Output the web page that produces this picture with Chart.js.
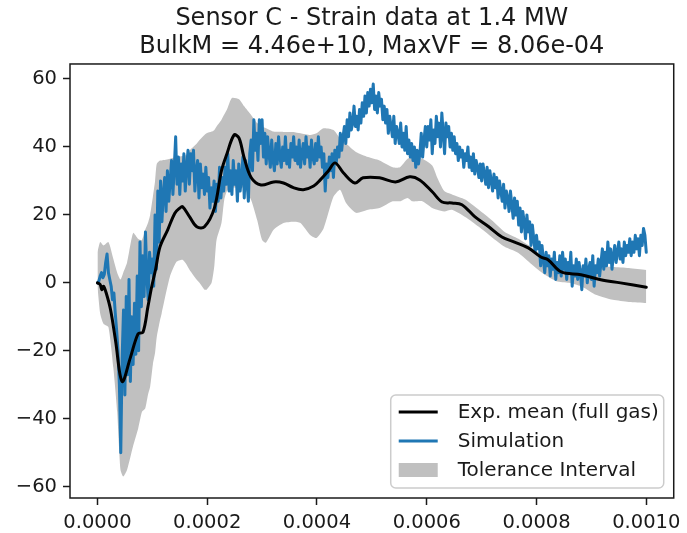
<!DOCTYPE html>
<html>
<head>
<meta charset="utf-8">
<title>Sensor C - Strain data</title>
<script src="https://cdn.jsdelivr.net/npm/chart.js@4/dist/chart.umd.min.js"></script>
<style>
  html, body { margin: 0; padding: 0; background: #fff; }
  canvas { display: block; }
</style>
</head>
<body>
<canvas id="strainChart" width="687" height="533"></canvas>
<script>
const titleLines = ['Sensor C - Strain data at 1.4 MW', 'BulkM = 4.46e+10, MaxVF = 8.06e-04'];
const xTicks = [0, 0.0002, 0.0004, 0.0006, 0.0008, 0.001];
const yTicks = [-60, -40, -20, 0, 20, 40, 60];

// simulation output, sampled every 2.5 us from t = 0
const simStepUs = 2.5;
const simY = [
  0, 0.5, 2, 3, 1.5, 2.5, 6, 8.5, 3, 1,
  -1, -5, -3, -9, -14, -20, -30, -50, -22, -8,
  -33, -4, -27, 1, -29, -10, -24, -6, -21, 2,
  -20, 12, -7, 8, -4, 15, 2, -5, 9, 3,
  7, -1, 20, 4, 27, 12, 30, 18, 26, 31,
  21, 33, 24, 30, 36, 26, 34, 43, 29, 37,
  26, 35, 30, 38, 27, 34, 39, 29, 38, 33,
  39, 27, 33, 36, 25, 35, 28, 32, 26, 34,
  27, 31, 22, 28, 24, 30, 21, 29, 24, 34,
  25, 31, 27, 34, 29, 38, 27, 33, 26, 36,
  29, 33, 24, 35, 27, 31, 37, 25, 36, 30,
  24, 38, 42, 33, 48, 39, 44, 36, 48, 41,
  48, 37, 44, 35, 43, 38, 34, 42, 36, 33,
  41, 35, 43, 37, 34, 40, 36, 43, 35, 39,
  34, 41, 37, 43, 36, 40, 35, 42, 34, 38,
  41, 35, 43, 37, 40, 34, 42, 37, 35, 41,
  36, 43, 37, 40, 34, 38, 27, 35, 31, 37,
  33, 38, 31, 39, 35, 40, 37, 44, 39, 43,
  46, 41, 48, 43, 50, 45, 47, 52, 46, 49,
  45, 51, 47, 53, 49, 55, 50, 56, 52, 57,
  53, 58.5, 51, 55, 50, 56, 52, 54, 48, 52,
  47, 51, 44, 49, 46, 43, 49, 41, 46, 44,
  41, 47, 40, 44, 39, 46, 38, 42, 37, 41,
  36, 40, 34, 39, 35, 38, 44, 37, 42, 46,
  40, 46, 42, 48, 38, 45, 41, 49, 43, 47,
  40, 50, 44, 38, 47, 43, 46, 40, 44, 39,
  43, 38, 41, 36, 40, 37, 39, 34, 38, 36,
  40, 34, 37, 33, 38, 32, 36, 34, 31, 35,
  30, 35, 32, 29, 34, 28, 33, 30, 27, 32,
  28, 31, 25, 30, 27, 24, 29, 22, 27, 25,
  21, 27, 23, 19, 25, 20, 24, 17, 22, 15,
  21, 18, 13, 20, 15, 18, 11, 17, 13, 9,
  14, 10, 12, 5, 11, 7, 3, 9, 5, 8,
  2, 7, 4, 9, 1, 6, 3, 8, 2, 9,
  4, 7, 1, 6, 3, 9, -1, 5, 2, 7,
  1, 6, 3, -2, 5, 2, 7, 0, 4, 6,
  1, 8, -1, 5, 3, 7, 2, 6, 10, 4,
  9, 5, 12, 6, 10, 4, 8, 11, 6, 9,
  12, 7, 10, 6, 12, 8, 11, 9, 13, 8,
  12, 9, 14, 10, 13, 8, 14, 11, 16, 14,
  9
];

// experimental mean (full gas)
const meanTimeUs = [
  0, 5, 8, 11, 16, 24, 33, 45, 60, 74,
  83, 92, 99, 106, 114, 128, 141, 150, 155, 168,
  181, 195, 213, 226, 236, 249, 258, 267, 280, 298,
  321, 339, 357, 375, 394, 406, 421, 433, 448, 469,
  484, 514, 543, 569, 587, 610, 628, 646, 664, 688,
  713, 737, 760, 785, 808, 821, 845, 881, 917, 953,
  1000
];
const meanY = [
  0, -0.5, -2, -1, -3, -8, -17, -29, -22, -15,
  -14.5, -7, -1, 4, 10.6, 15.6, 20.5, 22, 22.4, 19.4,
  16.5, 16.5, 22, 33, 38, 43.5, 42.6, 37, 31, 28.8,
  29.7, 29.4, 28, 27.4, 28.5, 30.3, 33, 35.3, 32.4, 29.4,
  30.9, 30.9, 29.7, 31.2, 30.3, 26.8, 23.8, 23.5, 23, 19.4,
  16.5, 13.5, 12, 10.3, 7.6, 6.8, 3.2, 2.4, 0.9, 0,
  -1.3
];

// tolerance interval bounds
const bandTimeUs = [
  0, 5, 11, 20, 29, 36, 42, 47, 54, 65,
  74, 81, 87, 92, 96, 101, 105, 108, 114, 117,
  132, 144, 155, 162, 168, 181, 186, 195, 199, 208,
  213, 217, 226, 231, 236, 245, 258, 267, 280, 291,
  300, 307, 321, 339, 357, 370, 388, 399, 412, 430,
  442, 453, 471, 493, 514, 538, 551, 565, 574, 592,
  610, 619, 632, 646, 670, 695, 718, 742, 767, 791,
  814, 836, 859, 884, 908, 939, 968, 1000
];
const bandUpper = [
  9, 12, 11, 12, 7, 3, 1, 3, 6, 14.7,
  13, 12.6, 15.6, 17.6, 20, 25.3, 30, 35, 36, 36,
  36.5, 37, 37.3, 37.6, 39, 41, 42, 43.5, 44, 44.5,
  45, 46, 48, 49.5, 51, 54.4, 54, 52, 49.4, 47,
  46, 45.5, 44.5, 44.4, 44.4, 44, 43.5, 44, 45.5, 45,
  42.6, 41, 38.5, 37, 36, 34, 34, 36.5, 37, 36.5,
  34.5, 31, 27, 26, 24.5, 21.5, 18.5, 15, 13, 10.5,
  7.5, 5.3, 4.6, 4.4, 4.7, 4.7, 4.4, 3.8
];
const bandLower = [
  -1, -9, -12, -13, -25, -38, -55, -57, -55, -48,
  -43, -38, -37, -33, -30.6, -24, -20.6, -16, -11, -9,
  1.8, 6.2, 6.8, 5.5, 3.8, 0.9, 0, -2, -2, 0,
  5, 12.6, 17.6, 24.4, 27, 28, 28, 28, 24.4, 18.5,
  12.6, 11.8, 15.6, 17.6, 18, 17.6, 14, 13.2, 16, 25.3,
  27.4, 23.5, 20.6, 21.5, 22, 24, 24, 25, 24, 24,
  22, 21.5, 21, 21.5, 19.4, 16.5, 13.5, 10.6, 8.8, 5.5,
  2.5, 0.5, 0, -1.2, -3.5, -5, -5.6, -5.9
];

const toPoints = (times, values) => times.map((t, i) => ({ x: t * 1e-6, y: values[i] }));
const simPoints = simY.map((y, i) => ({ x: i * simStepUs * 1e-6, y }));

const FONT = '"DejaVu Sans", sans-serif';
const INK = '#1a1a1a';

// all four spines, drawn over the data like matplotlib does
const frame = {
  id: 'frame',
  afterDatasetsDraw(chart) {
    const { ctx, chartArea: a } = chart;
    ctx.save();
    ctx.strokeStyle = INK;
    ctx.lineWidth = 1.5;
    ctx.strokeRect(a.left, a.top, a.right - a.left, a.bottom - a.top);
    ctx.restore();
  }
};

// legend box in the lower right corner of the axes
const cornerLegend = {
  id: 'cornerLegend',
  afterDraw(chart) {
    const { ctx, chartArea: a } = chart;
    const entries = chart.data.datasets.filter(d => d.label);
    const w = 273, h = 93, rowH = 29;
    const x = a.right - 10 - w;
    const y = a.bottom - 10 - h;

    ctx.save();
    ctx.beginPath();
    ctx.roundRect(x, y, w, h, 5);
    ctx.fillStyle = 'rgba(255,255,255,0.8)';
    ctx.fill();
    ctx.strokeStyle = '#cccccc';
    ctx.lineWidth = 1.5;
    ctx.stroke();

    ctx.font = '20px ' + FONT;
    ctx.textBaseline = 'middle';
    entries.forEach((d, i) => {
      const cy = y + 17 + i * rowH;
      if (d.fill) {
        ctx.fillStyle = d.backgroundColor;
        ctx.fillRect(x + 8, cy - 7, 39, 14);
      } else {
        ctx.beginPath();
        ctx.moveTo(x + 8, cy);
        ctx.lineTo(x + 47, cy);
        ctx.strokeStyle = d.borderColor;
        ctx.lineWidth = d.borderWidth;
        ctx.stroke();
      }
      ctx.fillStyle = INK;
      ctx.fillText(d.label, x + 67, cy + 1);
    });
    ctx.restore();
  }
};

const axisStyle = {
  grid: { drawOnChartArea: false, drawTicks: true, tickLength: 7, tickWidth: 1.5, tickColor: INK },
  border: { display: false }
};

new Chart(document.getElementById('strainChart'), {
  type: 'line',
  data: {
    datasets: [
      {
        label: 'Exp. mean (full gas)',
        data: toPoints(meanTimeUs, meanY),
        borderColor: '#000000',
        borderWidth: 3,
        borderJoinStyle: 'round',
        borderCapStyle: 'round',
        tension: 0.35,
        pointRadius: 0,
        fill: false,
        order: 0
      },
      {
        label: 'Simulation',
        data: simPoints,
        borderColor: '#1f77b4',
        borderWidth: 3,
        borderJoinStyle: 'round',
        borderCapStyle: 'round',
        tension: 0,
        pointRadius: 0,
        fill: false,
        order: 1
      },
      {
        label: 'Tolerance Interval',
        data: toPoints(bandTimeUs, bandUpper),
        borderWidth: 0,
        borderColor: 'rgba(0,0,0,0)',
        backgroundColor: '#c0c0c0',
        tension: 0.2,
        pointRadius: 0,
        fill: '+1',
        order: 2
      },
      {
        label: '',
        data: toPoints(bandTimeUs, bandLower),
        borderWidth: 0,
        borderColor: 'rgba(0,0,0,0)',
        tension: 0.2,
        pointRadius: 0,
        fill: false,
        order: 3
      }
    ]
  },
  options: {
    responsive: false,
    devicePixelRatio: 1,
    animation: false,
    events: [],
    layout: { padding: { left: 0, right: 9, top: 0, bottom: 0 } },
    plugins: {
      legend: { display: false },
      tooltip: { enabled: false },
      title: {
        display: true,
        fullSize: false,
        text: titleLines,
        color: INK,
        font: { family: FONT, size: 24, weight: 'normal', lineHeight: 1.16 },
        padding: { top: 5, bottom: 3.3 }
      }
    },
    scales: {
      x: {
        type: 'linear',
        min: -0.00005,
        max: 0.00105,
        afterBuildTicks: s => { s.ticks = xTicks.map(v => ({ value: v })); },
        afterFit: s => { s.height = 35; },
        ticks: {
          color: INK,
          padding: 6,
          maxRotation: 0,
          font: { family: FONT, size: 19.5 },
          callback: v => v.toFixed(4)
        },
        ...axisStyle
      },
      y: {
        type: 'linear',
        min: -63.3,
        max: 64.4,
        afterBuildTicks: s => { s.ticks = yTicks.map(v => ({ value: v })); },
        afterFit: s => { s.width = 70; },
        ticks: {
          color: INK,
          padding: 6,
          font: { family: FONT, size: 19.5 },
          callback: v => (v < 0 ? '\u2212' + Math.abs(v) : String(v))
        },
        ...axisStyle
      }
    }
  },
  plugins: [frame, cornerLegend]
});
</script>
</body>
</html>
